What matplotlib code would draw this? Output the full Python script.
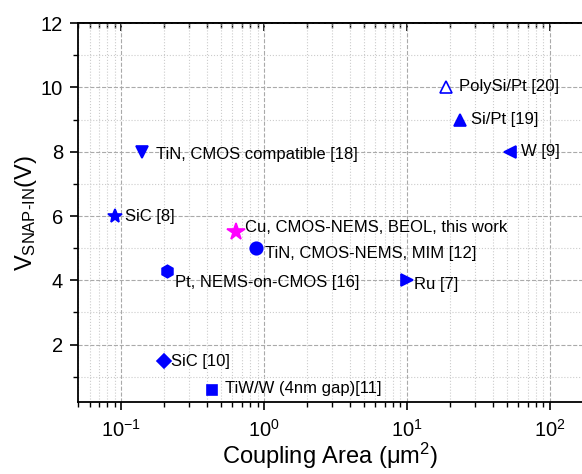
import matplotlib
matplotlib.use('Agg')
import matplotlib.pyplot as plt
from matplotlib.ticker import MultipleLocator, LogLocator, NullFormatter

plt.rcParams['font.family'] = ['Liberation Sans', 'DejaVu Sans']
plt.rcParams['mathtext.fontset'] = 'custom'
plt.rcParams['mathtext.rm'] = 'Liberation Sans'
plt.rcParams['mathtext.it'] = 'Liberation Sans:italic'
plt.rcParams['mathtext.default'] = 'regular'

# Data
labels = ['SiC [8]', 'TiN, CMOS compatible [18]', 'PolySi/Pt [20]', 'Si/Pt [19]',
          'W [9]', 'Cu, CMOS-NEMS, BEOL, this work', 'TiN, CMOS-NEMS, MIM [12]',
          'Pt, NEMS-on-CMOS [16]', 'Ru [7]', 'SiC [10]', 'TiW/W (4nm gap)[11]']
area = [0.091, 0.14, 18.7, 23.5, 53, 0.64, 0.88, 0.21, 10, 0.2, 0.43]
vsnap = [6, 8, 10, 9, 8, 5.5, 5, 4.3, 4, 1.5, 0.6]

# Marker style and label offset (pixels) for each point
markers = ['*', 'v', '^', '^', '<', '*', 'o', 'h', '>', 'D', 's']
sizes = [10, 9, 9, 9, 9, 13, 9, 9, 9, 7, 7]
filled = [True, True, False, True, True, True, True, True, True, True, True]
colors = ['#0000FF'] * 5 + ['#FF00FF'] + ['#0000FF'] * 5
offsets = [(10, 0), (14, -3), (13, 1), (11, 0), (11, 0), (9, 5), (9, -5),
           (8, -12), (7, -4), (7, -1), (13, 1)]

fig = plt.figure(figsize=(5.82, 4.74), dpi=100)
ax = fig.add_axes([0.1345, 0.151, 0.8655, 0.8])

for x, y, m, s, f, c, lab, off in zip(area, vsnap, markers, sizes, filled,
                                      colors, labels, offsets):
    ax.plot(x, y, marker=m, markersize=s, color=c, linestyle='none',
            markerfacecolor=c if f else 'white', markeredgecolor=c,
            markeredgewidth=1.2, zorder=3)
    ax.annotate(lab, (x, y), xytext=off, textcoords='offset pixels',
                ha='left', va='center', fontsize=12, zorder=4)

ax.set_xscale('log')
ax.set_xlim(0.05, 168)
ax.set_ylim(0.2, 12)

ax.yaxis.set_major_locator(MultipleLocator(2))
ax.yaxis.set_minor_locator(MultipleLocator(1))
ax.xaxis.set_major_locator(LogLocator(base=10))
ax.xaxis.set_minor_locator(LogLocator(base=10, subs=range(2, 10)))
ax.xaxis.set_minor_formatter(NullFormatter())

ax.grid(which='major', color='#aaaaaa', linestyle='--', linewidth=0.8)
ax.grid(which='minor', color='#cccccc', linestyle=':', linewidth=0.8)
ax.set_axisbelow(True)

ax.spines['right'].set_visible(False)
for sp in ['left', 'bottom', 'top']:
    ax.spines[sp].set_linewidth(1.3)

ax.tick_params(axis='both', which='major', labelsize=14.5, length=6, width=1.2)
ax.tick_params(axis='both', which='minor', length=3.5, width=1.0)
ax.tick_params(axis='x', which='both', direction='out', pad=6)
ax.tick_params(axis='y', which='both', right=False, direction='out', pad=5)

# top axis: ticks pointing inward, no labels
top = ax.secondary_xaxis('top')
top.xaxis.set_major_locator(LogLocator(base=10))
top.xaxis.set_minor_locator(LogLocator(base=10, subs=range(2, 10)))
top.tick_params(which='both', direction='in', labeltop=False)
top.tick_params(which='major', length=6, width=1.2)
top.tick_params(which='minor', length=3.5, width=1.0)
top.spines['top'].set_linewidth(1.3)

ax.set_xlabel(r'Coupling Area ($\mu$m$^2$)', fontsize=17, labelpad=0)
ax.set_ylabel(r'V$_{\mathrm{SNAP\text{-}IN}}$(V)', fontsize=17, labelpad=1)

fig.savefig('out.png', dpi=100)
